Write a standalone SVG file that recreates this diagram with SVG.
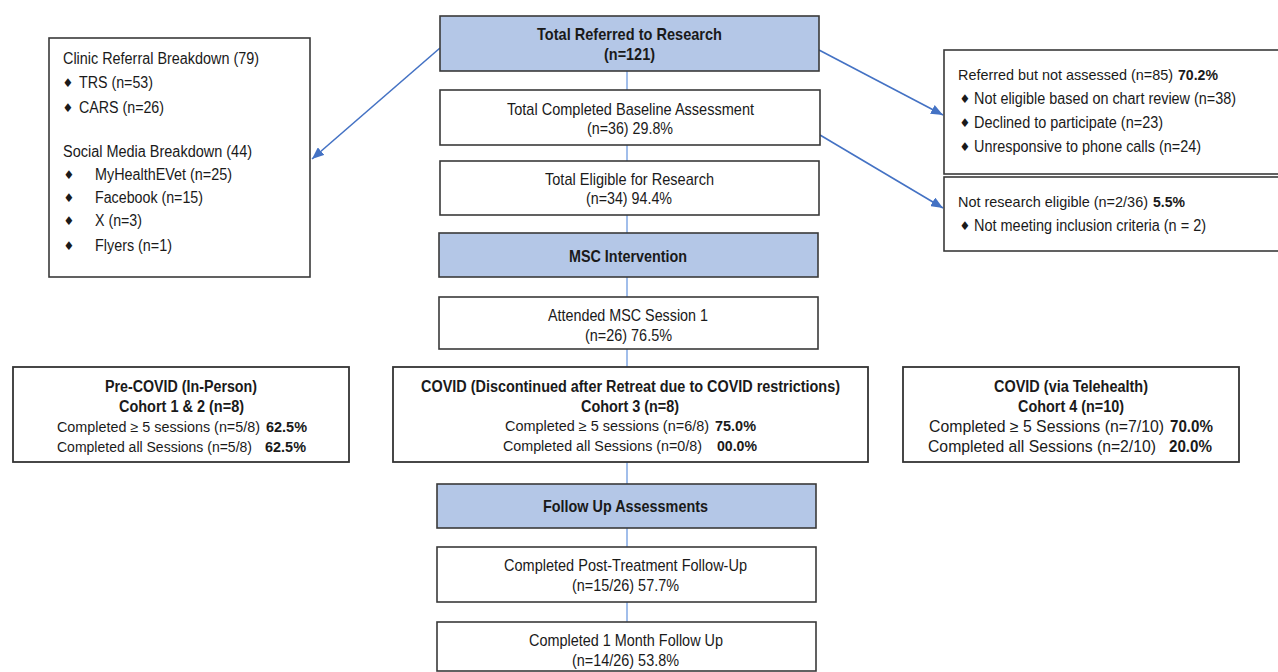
<svg xmlns="http://www.w3.org/2000/svg" width="1278" height="672" viewBox="0 0 1278 672">
<style>
  text { font-family: "Liberation Sans", Arial, sans-serif; font-size: 16px; fill: #1a1a1a; }
  .m { text-anchor: middle; }
  .b { font-weight: bold; }
  .big { font-size: 17px; }
  .bul { font-family: "DejaVu Sans", sans-serif; font-size: 12px; text-anchor: middle; }
  .box { fill: #ffffff; stroke: #3a3a3a; stroke-width: 1.6; }
  .hdr { fill: #b4c7e7; stroke: #3a3a3a; stroke-width: 1.6; }
  .coh { fill: #ffffff; stroke: #333333; stroke-width: 1.8; }
  .vc { stroke: #6f9be0; stroke-width: 1.3; fill: none; }
  .ar { stroke: #4472c4; stroke-width: 1.6; fill: none; }
</style>
<defs>
  <marker id="ah" viewBox="0 0 12 10" refX="12" refY="5" markerWidth="12" markerHeight="10" markerUnits="userSpaceOnUse" orient="auto">
    <path d="M0,0 L12,5 L0,10 Z" fill="#4472c4"/>
  </marker>
</defs>
<rect x="0" y="0" width="1278" height="672" fill="#ffffff"/>

<g id="connectors">
  <line class="vc" x1="627" y1="71" x2="627" y2="90"/>
  <line class="vc" x1="627" y1="145" x2="627" y2="161"/>
  <line class="vc" x1="627" y1="215" x2="627" y2="233"/>
  <line class="vc" x1="627" y1="277" x2="627" y2="297"/>
  <line class="vc" x1="627" y1="349" x2="627" y2="367"/>
  <line class="vc" x1="627" y1="462" x2="627" y2="484"/>
  <line class="vc" x1="627" y1="528" x2="627" y2="547"/>
  <line class="vc" x1="627" y1="602" x2="627" y2="622"/>
  <line class="ar" x1="440" y1="48" x2="312" y2="159" marker-end="url(#ah)"/>
  <line class="ar" x1="819" y1="50" x2="943" y2="115" marker-end="url(#ah)"/>
  <line class="ar" x1="820" y1="135" x2="943" y2="208" marker-end="url(#ah)"/>
</g>

<g id="total-referred">
  <rect class="hdr" x="440" y="16" width="379" height="55"/>
  <text class="m b big" x="629.5" y="40" textLength="185" lengthAdjust="spacingAndGlyphs">Total Referred to Research</text>
  <text class="m b big" x="629.5" y="60" textLength="51" lengthAdjust="spacingAndGlyphs">(n=121)</text>
</g>

<g id="baseline">
  <rect class="box" x="440" y="90" width="380" height="55"/>
  <text class="m big" x="630.5" y="115" textLength="247" lengthAdjust="spacingAndGlyphs">Total Completed Baseline Assessment</text>
  <text class="m big" x="630" y="134" textLength="86" lengthAdjust="spacingAndGlyphs">(n=36) 29.8%</text>
</g>

<g id="eligible">
  <rect class="box" x="440" y="161" width="379" height="54"/>
  <text class="m big" x="629.5" y="185" textLength="169" lengthAdjust="spacingAndGlyphs">Total Eligible for Research</text>
  <text class="m big" x="629" y="204" textLength="86" lengthAdjust="spacingAndGlyphs">(n=34) 94.4%</text>
</g>

<g id="msc-intervention">
  <rect class="hdr" x="439" y="233" width="379" height="44"/>
  <text class="m b big" x="628" y="262" textLength="118" lengthAdjust="spacingAndGlyphs">MSC Intervention</text>
</g>

<g id="attended">
  <rect class="box" x="439" y="297" width="379" height="52"/>
  <text class="m big" x="628" y="321" textLength="160" lengthAdjust="spacingAndGlyphs">Attended MSC Session 1</text>
  <text class="m big" x="628.5" y="341" textLength="87" lengthAdjust="spacingAndGlyphs">(n=26) 76.5%</text>
</g>

<g id="referral-breakdown">
  <rect class="box" x="49" y="38" width="261" height="239"/>
  <text x="63" y="64" textLength="196" lengthAdjust="spacingAndGlyphs">Clinic Referral Breakdown (79)</text>
  <text class="bul" x="68" y="87">♦</text>
  <text x="79" y="88" textLength="74" lengthAdjust="spacingAndGlyphs">TRS (n=53)</text>
  <text class="bul" x="68" y="112">♦</text>
  <text x="79" y="113" textLength="85" lengthAdjust="spacingAndGlyphs">CARS (n=26)</text>
  <text x="63" y="157" textLength="189" lengthAdjust="spacingAndGlyphs">Social Media Breakdown (44)</text>
  <text class="bul" x="69" y="179">♦</text>
  <text x="95" y="180" textLength="137" lengthAdjust="spacingAndGlyphs">MyHealthEVet (n=25)</text>
  <text class="bul" x="69" y="202">♦</text>
  <text x="95" y="203" textLength="108" lengthAdjust="spacingAndGlyphs">Facebook (n=15)</text>
  <text class="bul" x="69" y="225">♦</text>
  <text x="95" y="226" textLength="47" lengthAdjust="spacingAndGlyphs">X (n=3)</text>
  <text class="bul" x="69" y="250">♦</text>
  <text x="95" y="251" textLength="77" lengthAdjust="spacingAndGlyphs">Flyers (n=1)</text>
</g>

<g id="not-assessed">
  <rect class="box" x="944" y="50" width="340" height="124"/>
  <text x="958" y="80" style="font-size:14.4px" textLength="215" lengthAdjust="spacingAndGlyphs">Referred but not assessed (n=85)</text>
  <text class="b" x="1178" y="80" style="font-size:15px" textLength="40" lengthAdjust="spacingAndGlyphs">70.2%</text>
  <text class="bul" x="965" y="103">♦</text>
  <text x="974" y="104" textLength="262" lengthAdjust="spacingAndGlyphs">Not eligible based on chart review (n=38)</text>
  <text class="bul" x="965" y="127">♦</text>
  <text x="974" y="128" textLength="189" lengthAdjust="spacingAndGlyphs">Declined to participate (n=23)</text>
  <text class="bul" x="965" y="151">♦</text>
  <text x="974" y="152" textLength="227" lengthAdjust="spacingAndGlyphs">Unresponsive to phone calls (n=24)</text>
</g>

<g id="not-eligible">
  <rect class="box" x="944" y="177" width="340" height="74"/>
  <text x="958" y="207" style="font-size:14.4px" textLength="190" lengthAdjust="spacingAndGlyphs">Not research eligible (n=2/36)</text>
  <text class="b" x="1153" y="207" style="font-size:15px" textLength="32" lengthAdjust="spacingAndGlyphs">5.5%</text>
  <text class="bul" x="965" y="230">♦</text>
  <text x="974" y="231" textLength="232" lengthAdjust="spacingAndGlyphs">Not meeting inclusion criteria (n = 2)</text>
</g>

<g id="cohort-1-2">
  <rect class="coh" x="13" y="367" width="336" height="95"/>
  <text class="m b" x="181" y="392" textLength="152" lengthAdjust="spacingAndGlyphs">Pre-COVID (In-Person)</text>
  <text class="m b" x="181.5" y="412" textLength="125" lengthAdjust="spacingAndGlyphs">Cohort 1 &amp; 2 (n=8)</text>
  <text x="57" y="432" style="font-size:14.3px" textLength="203" lengthAdjust="spacingAndGlyphs">Completed ≥ 5 sessions (n=5/8)</text>
  <text class="b" x="266" y="432" style="font-size:15px" textLength="41" lengthAdjust="spacingAndGlyphs">62.5%</text>
  <text x="57" y="452" style="font-size:14px" textLength="195" lengthAdjust="spacingAndGlyphs">Completed all Sessions (n=5/8)</text>
  <text class="b" x="265" y="452" style="font-size:15px" textLength="41" lengthAdjust="spacingAndGlyphs">62.5%</text>
</g>

<g id="cohort-3">
  <rect class="coh" x="393" y="367" width="475" height="95"/>
  <text class="m b" x="630.5" y="392" textLength="419" lengthAdjust="spacingAndGlyphs">COVID (Discontinued after Retreat due to COVID restrictions)</text>
  <text class="m b" x="630" y="412" textLength="98" lengthAdjust="spacingAndGlyphs">Cohort 3 (n=8)</text>
  <text x="505" y="431" style="font-size:14.4px" textLength="204" lengthAdjust="spacingAndGlyphs">Completed ≥ 5 sessions (n=6/8)</text>
  <text class="b" x="715" y="431" style="font-size:15px" textLength="41" lengthAdjust="spacingAndGlyphs">75.0%</text>
  <text x="503" y="451" style="font-size:14.3px" textLength="199" lengthAdjust="spacingAndGlyphs">Completed all Sessions (n=0/8)</text>
  <text class="b" x="717" y="451" style="font-size:15px" textLength="40" lengthAdjust="spacingAndGlyphs">00.0%</text>
</g>

<g id="cohort-4">
  <rect class="coh" x="903" y="367" width="336" height="95"/>
  <text class="m b" x="1071" y="392" textLength="154" lengthAdjust="spacingAndGlyphs">COVID (via Telehealth)</text>
  <text class="m b" x="1071" y="412" textLength="106" lengthAdjust="spacingAndGlyphs">Cohort 4 (n=10)</text>
  <text x="929" y="432" style="font-size:15.7px" textLength="235" lengthAdjust="spacingAndGlyphs">Completed ≥ 5 Sessions (n=7/10)</text>
  <text class="b" x="1170" y="432" textLength="43" lengthAdjust="spacingAndGlyphs">70.0%</text>
  <text x="928" y="452" style="font-size:15.6px" textLength="228" lengthAdjust="spacingAndGlyphs">Completed all Sessions (n=2/10)</text>
  <text class="b" x="1169" y="452" textLength="43" lengthAdjust="spacingAndGlyphs">20.0%</text>
</g>

<g id="follow-up">
  <rect class="hdr" x="437" y="484" width="379" height="44"/>
  <text class="m b big" x="625.5" y="512" textLength="165" lengthAdjust="spacingAndGlyphs">Follow Up Assessments</text>
</g>

<g id="post-treatment">
  <rect class="box" x="437" y="547" width="379" height="55"/>
  <text class="m big" x="625.5" y="571" textLength="243" lengthAdjust="spacingAndGlyphs">Completed Post-Treatment Follow-Up</text>
  <text class="m big" x="625.5" y="591" textLength="107" lengthAdjust="spacingAndGlyphs">(n=15/26) 57.7%</text>
</g>

<g id="one-month">
  <rect class="box" x="437" y="622" width="379" height="49"/>
  <text class="m big" x="626" y="646" textLength="194" lengthAdjust="spacingAndGlyphs">Completed 1 Month Follow Up</text>
  <text class="m big" x="625.5" y="666" textLength="107" lengthAdjust="spacingAndGlyphs">(n=14/26) 53.8%</text>
</g>
</svg>
